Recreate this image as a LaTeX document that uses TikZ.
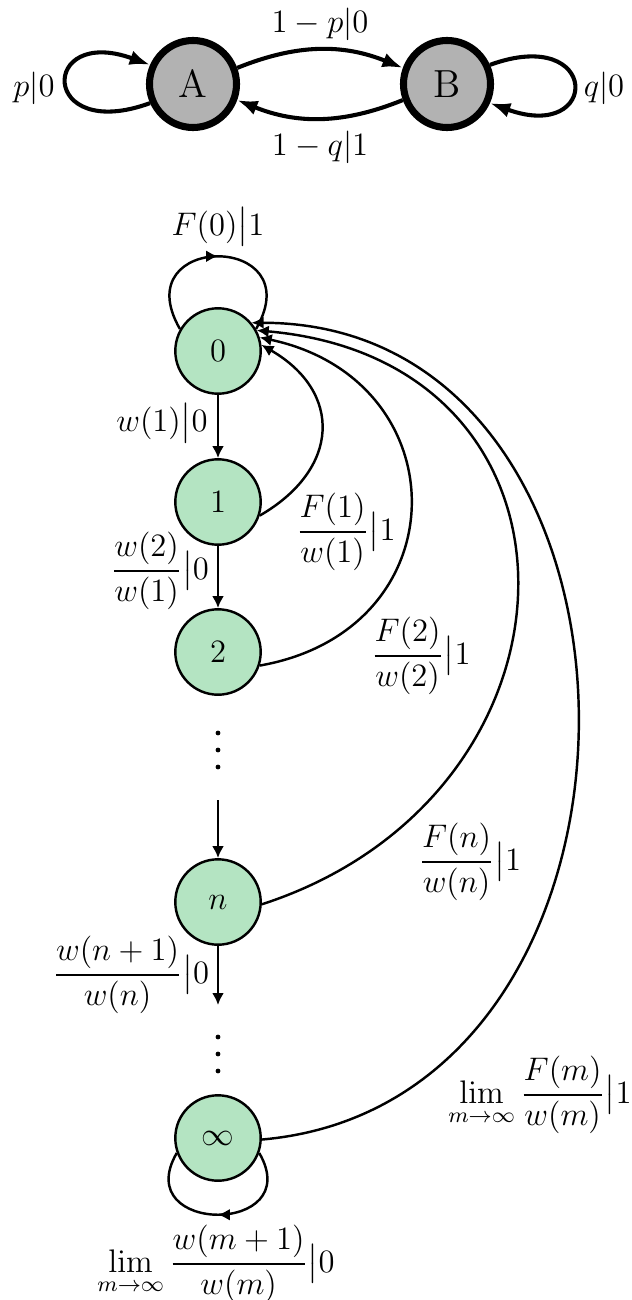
\documentclass[tikz,border=0pt]{standalone}
\usepackage{amsmath}
\usetikzlibrary{arrows.meta,decorations.markings}
\definecolor{stategreen}{RGB}{180,228,194}

\begin{document}
\begin{tikzpicture}[x=0.01292cm,y=0.01292cm,
    bigstate/.style={circle,draw,line width=2.6pt,fill=black!30,minimum size=32pt,inner sep=0pt,font=\Large},
    state/.style={circle,draw,line width=0.9pt,fill=stategreen,minimum size=31.4pt,inner sep=0pt,font=\large},
    toplbl/.style={font=\fontsize{12.8}{15}\selectfont},
    lbl/.style={font=\large},
    bigarr/.style={line width=1.5pt,-{Latex[length=7.5pt,width=5.5pt]}},
    arr/.style={line width=0.9pt,-{Latex[length=4.4pt,width=4.4pt]}},
    midarr/.style={line width=0.9pt,postaction={decorate},
        decoration={markings,mark=at position 0.5 with {\arrow{Latex[length=4.4pt,width=4.4pt]}}}}]
    \useasboundingbox (0,0) rectangle (632,-1300);

    \node[bigstate] (A) at (193,-84) {A};
    \node[bigstate] (B) at (447,-84) {B};
    \draw[bigarr] (A.204) .. controls +(200:118) and +(160:118) .. (A.156);
    \draw[bigarr] (B.24) .. controls +(20:118) and +(-20:118) .. (B.-24);
    \draw[bigarr] (A.20) to[bend left=22] (B.160);
    \draw[bigarr] (B.200) to[bend left=22] (A.-20);
    \node[toplbl] (pA) at (34,-88) {$p|0$};
    \node[toplbl] (qB) at (604,-88) {$q|0$};
    \node[toplbl] (pAB) at (320,-24) {$1-p|0$};
    \node[toplbl] (qBA) at (320,-147) {$1-q|1$};

    \node[state] (n0) at (218,-351) {$0$};
    \node[state] (n1) at (218,-502) {$1$};
    \node[state] (n2) at (218,-652) {$2$};
    \node[state] (nn) at (218,-902) {$n$};
    \node[state] (ninf) at (218,-1138) {$\infty$};
    \coordinate (c1) at (218,-800);
    \coordinate (c2) at (218,-1005);
    \foreach \y in {733,750,767,1037,1054,1071}
        \fill (218,-\y) circle (2.4);

    \draw[arr] (n0) -- (n1);
    \draw[arr] (n1) -- (n2);
    \draw[arr] (c1) -- (nn);
    \draw[arr] (nn) -- (c2);
    \draw[midarr] (n0.150) .. controls +(120:112) and +(60:112) .. (n0.30);
    \draw[midarr] (ninf.-20) .. controls +(-60:95) and +(-120:95) .. (ninf.-160);
    \draw[arr] (n1.-18) to[out=30,in=-30,looseness=1.4] (n0.8);
    \draw[arr] (n2.-18) to[out=10,in=-12,looseness=1.6] (n0.18);
    \draw[arr] (nn.-3) to[out=18,in=-5,looseness=1.57] (n0.28);
    \draw[arr] (ninf.-2) to[out=5,in=0,looseness=1.34] (n0.40);

    \node[lbl] (l00) at (218,-227) {$F(0)\big|1$};
    \node[lbl] (l01) at (162,-423) {$w(1)\big|0$};
    \node[lbl] (l12) at (160,-571) {$\dfrac{w(2)}{w(1)}\big|0$};
    \node[lbl] (lnn) at (131,-975) {$\dfrac{w(n+1)}{w(n)}\big|0$};
    \node[lbl] (linf) at (216,-1264) {$\displaystyle\lim_{m\to\infty}\frac{w(m+1)}{w(m)}\big|0$};
    \node[lbl] (f1) at (346,-532) {$\dfrac{F(1)}{w(1)}\big|1$};
    \node[lbl] (f2) at (421,-656) {$\dfrac{F(2)}{w(2)}\big|1$};
    \node[lbl] (fn) at (470,-862) {$\dfrac{F(n)}{w(n)}\big|1$};
    \node[lbl] (finf) at (540,-1095) {$\displaystyle\lim_{m\to\infty}\frac{F(m)}{w(m)}\big|1$};
\end{tikzpicture}
\end{document}
